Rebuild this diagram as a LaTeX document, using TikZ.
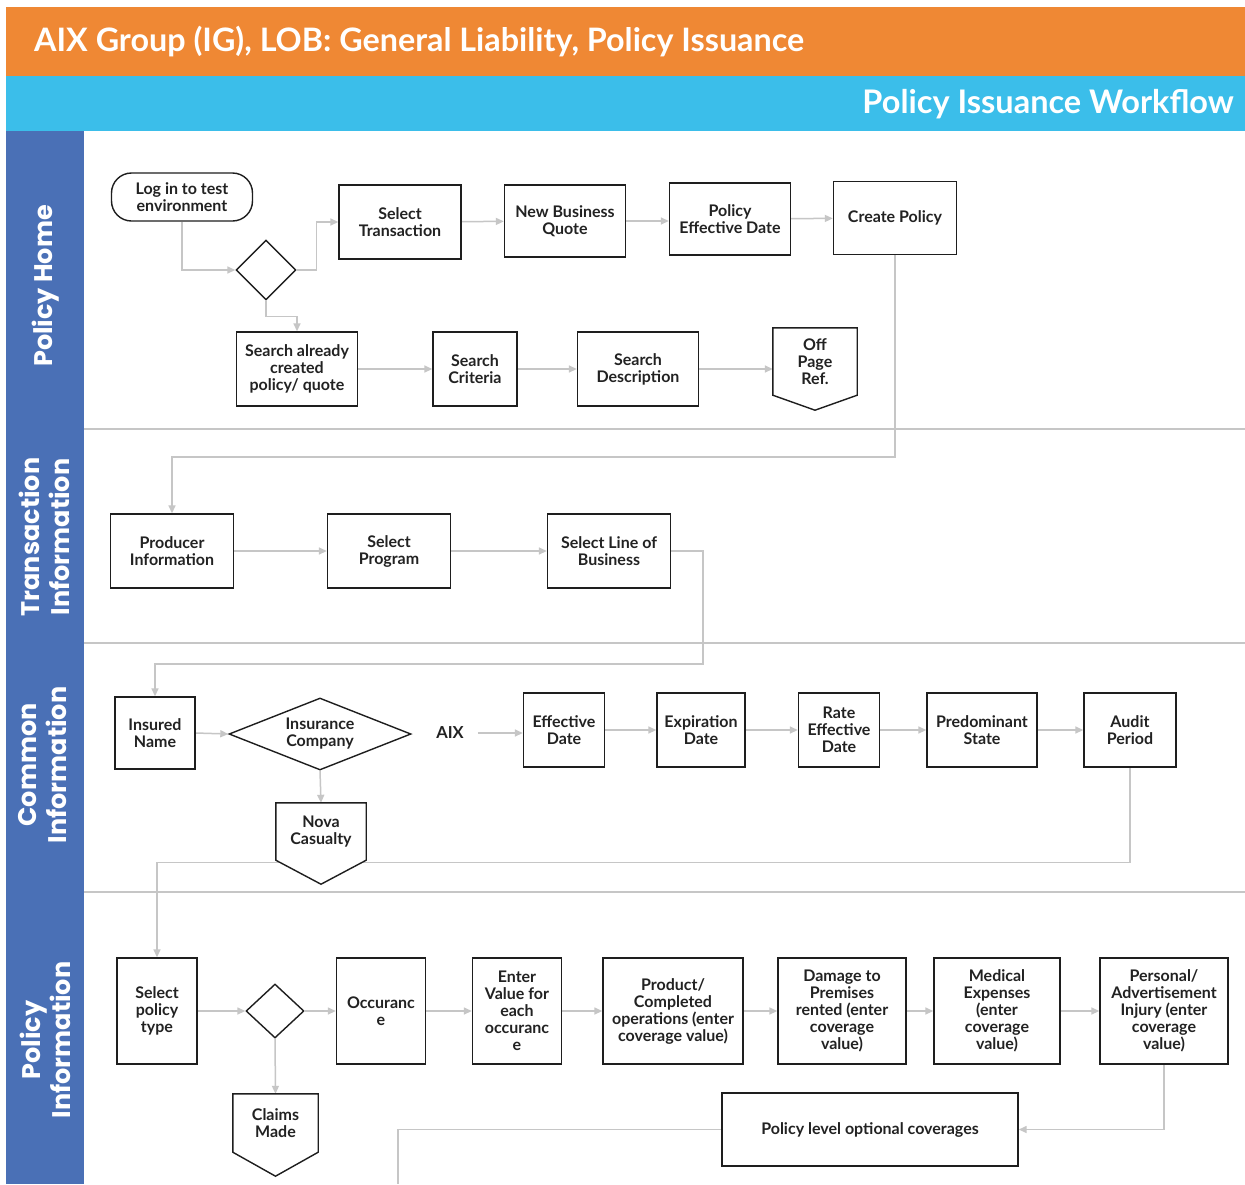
\documentclass[tikz,border=0pt]{standalone}
\usepackage{fontspec}
\setmainfont{Lato}
\newfontfamily\popfont{Poppins}
\usetikzlibrary{shapes.geometric,arrows.meta}
\definecolor{hdrorange}{HTML}{EF8834}
\definecolor{hdrblue}{HTML}{3BBEEA}
\definecolor{laneblue}{HTML}{4A70B6}
\definecolor{connclr}{HTML}{C6C6C6}
\definecolor{boxclr}{HTML}{1E1E1E}
\definecolor{txtclr}{HTML}{222222}
\pgfdeclarelayer{bg}
\pgfdeclarelayer{mid}
\pgfsetlayers{bg,mid,main}
\begin{document}
\begin{tikzpicture}[x=1pt,y=-1pt,
  nodefont/.style={font=\bfseries\fontsize{16}{17}\selectfont},
  box/.style={draw=boxclr, line width=1.4pt, fill=white, align=center, inner sep=0pt,
    nodefont, text=txtclr},
  plainbox/.style={align=center, inner sep=0pt, nodefont, text=txtclr},
  pent/.style={draw=boxclr, line width=1.4pt, fill=white, line join=miter},
  dia/.style={diamond, draw=boxclr, line width=1.4pt, fill=white, inner sep=0pt, align=center,
    nodefont, text=txtclr},
  conn/.style={draw=connclr, line width=1.5pt, -{Triangle[length=8pt,width=7pt]}},
  connline/.style={draw=connclr, line width=1.5pt},
  lanesep/.style={draw=connclr, line width=2.2pt},
  lanelbl/.style={rotate=90, text=white, align=center, font=\popfont\bfseries\fontsize{25.5}{30}\selectfont}
]
\useasboundingbox (0,0) rectangle (1245,1184);
\begin{pgfonlayer}{bg}
\fill[white] (0,0) rectangle (1245,1184);
\end{pgfonlayer}

% headers
\fill[hdrorange] (6,7) rectangle (1245,76);
\fill[hdrblue] (6,76) rectangle (1245,131);
\node[anchor=west, text=white, inner sep=0pt, font=\bfseries\fontsize{32.3}{36}\selectfont] (title) at (34,42) {AIX Group (IG), LOB: General Liability, Policy Issuance};
\node[anchor=east, text=white, inner sep=0pt, font=\bfseries\fontsize{32.5}{36}\selectfont] (subtitle) at (1234,104) {Policy Issuance Workflow};

% lane band
\fill[laneblue] (6,131) rectangle (84,1184);
\begin{pgfonlayer}{bg}
\draw[connclr, line width=1.5pt] (84,429) -- (1245,429);
\draw[lanesep] (84,643) -- (1245,643);
\draw[lanesep] (84,892) -- (1245,892);
\end{pgfonlayer}
\node[lanelbl] (lane1) at (46,286) {Policy Home};
\node[lanelbl] (lane2) at (44,537) {Transaction\\Information};
\node[lanelbl] (lane3) at (43,765) {Common\\Information};
\node[lanelbl] (lane4) at (45,1040) {Policy\\Information};

% lane 1
\node[box, rounded corners=20pt, minimum width=141pt, minimum height=48pt] (login) at (182,197) {Log in to test\\environment};
\node[dia, minimum width=60pt, minimum height=60pt] (d1) at (266,270) {};
\node[box, minimum width=122pt, minimum height=74pt] (seltrans) at (400,222) {Select\\Transaction};
\node[box, minimum width=121pt, minimum height=72pt] (nbq) at (565,221) {New Business\\Quote};
\node[box, minimum width=121pt, minimum height=72pt] (ped) at (730,219) {Policy\\Effective Date};
\node[box, minimum width=123pt, minimum height=73pt] (create) at (895,218) {Create Policy};
\node[box, minimum width=121pt, minimum height=74pt] (search) at (297,369) {Search already\\created\\policy/ quote};
\node[box, minimum width=84pt, minimum height=74pt] (crit) at (475,369) {Search\\Criteria};
\node[box, minimum width=121pt, minimum height=74pt] (desc) at (638,369) {Search\\Description};
\node[plainbox, minimum width=84pt, minimum height=67pt] (offpg) at (815,361.5) {Off\\Page\\Ref.};

% lane 2
\node[box, minimum width=123pt, minimum height=74pt] (prod) at (172,551) {Producer\\Information};
\node[box, minimum width=123pt, minimum height=74pt] (prog) at (389,551) {Select\\Program};
\node[box, minimum width=123pt, minimum height=74pt] (lob) at (609,551) {Select Line of\\Business};

% lane 3
\node[box, minimum width=80pt, minimum height=72pt] (insured) at (155,733) {Insured\\Name};
\node[dia, aspect=2.5, minimum width=182pt, minimum height=72pt] (insco) at (320,734) {Insurance\\Company};
\node[plainbox, inner xsep=14pt, font=\bfseries\fontsize{16.5}{18}\selectfont] (aix) at (450,733) {AIX};
\node[box, minimum width=81pt, minimum height=74pt] (effdate) at (564,730) {Effective\\Date};
\node[box, minimum width=88pt, minimum height=74pt] (expdate) at (701,730) {Expiration\\Date};
\node[box, minimum width=81pt, minimum height=74pt] (rate) at (839,730) {Rate\\Effective\\Date};
\node[box, minimum width=110pt, minimum height=74pt] (pred) at (982,730) {Predominant\\State};
\node[box, minimum width=92pt, minimum height=74pt] (audit) at (1130,730) {Audit\\Period};
\node[plainbox, minimum width=90pt, minimum height=57pt] (nova) at (321,831.5) {Nova\\Casualty};

% lane 4
\node[box, minimum width=80pt, minimum height=106pt] (selpol) at (157,1011) {Select\\policy\\type};
\node[dia, minimum width=58pt, minimum height=54pt] (d2) at (275,1011) {};
\node[box, minimum width=89pt, minimum height=106pt] (occ) at (381,1011) {Occuranc\\e};
\node[box, minimum width=89pt, minimum height=106pt] (enter) at (517,1011) {Enter\\Value for\\each\\occuranc\\e};
\node[box, minimum width=140pt, minimum height=106pt] (prodops) at (673,1011) {Product/\\Completed\\operations (enter\\coverage value)};
\node[box, minimum width=128pt, minimum height=106pt] (damage) at (842,1011) {Damage to\\Premises\\rented (enter\\coverage\\value)};
\node[box, minimum width=126pt, minimum height=106pt] (medical) at (997,1011) {Medical\\Expenses\\(enter\\coverage\\value)};
\node[box, minimum width=128pt, minimum height=106pt] (personal) at (1164,1011) {Personal/\\Advertisement\\Injury (enter\\coverage\\value)};
\node[plainbox, minimum width=85pt, minimum height=58pt] (claims) at (275.5,1123) {Claims\\Made};
\node[box, minimum width=296pt, minimum height=73pt] (optional) at (870,1129.5) {Policy level optional coverages};
\coordinate (offend) at (398,1184);

% off-page pentagons
\begin{pgfonlayer}{mid}
\draw[pent] (offpg.north west) -- (offpg.north east) -- (offpg.south east) -- ([yshift=-15pt]offpg.south) -- (offpg.south west) -- cycle;
\draw[pent] (nova.north west) -- (nova.north east) -- (nova.south east) -- ([yshift=-24pt]nova.south) -- (nova.south west) -- cycle;
\draw[pent] (claims.north west) -- (claims.north east) -- (claims.south east) -- ([yshift=-24pt]claims.south) -- (claims.south west) -- cycle;
\end{pgfonlayer}

% connectors
\begin{pgfonlayer}{bg}
\draw[conn] (login.south) |- (d1.west);
\draw[conn] (d1.east) -- ++(20,0) |- (seltrans.west);
\draw[conn] (d1.south) -- ++(0,16) -| (search.north);
\draw[conn] (seltrans) -- (nbq);
\draw[conn] (nbq.east) -- (ped.west |- nbq.east);
\draw[conn] (ped) -- (create);
\draw[conn] (search) -- (crit);
\draw[conn] (crit) -- (desc);
\draw[conn] (desc.east) -- (offpg.west |- desc.east);
\draw[conn] (create.south) -- ++(0,202) -| (prod.north);
\draw[conn] (prod) -- (prog);
\draw[conn] (prog) -- (lob);
\draw[conn] (lob.east) -- ++(32,0) -- ++(0,113) -| (insured.north);
\draw[conn] (insured.east) -- (insco.west);
\draw[conn] (aix.east) -- (effdate.west |- aix.east);
\draw[conn] (insco.south) -- (nova.north);
\draw[conn] (effdate) -- (expdate);
\draw[conn] (expdate) -- (rate);
\draw[conn] (rate) -- (pred);
\draw[conn] (pred) -- (audit);
\draw[conn] (audit.south) -- ++(0,95) -| (selpol.north);
\draw[conn] (selpol) -- (d2);
\draw[conn] (d2) -- (occ);
\draw[conn] (occ) -- (enter);
\draw[conn] (enter) -- (prodops);
\draw[conn] (prodops) -- (damage);
\draw[conn] (damage) -- (medical);
\draw[conn] (medical) -- (personal);
\draw[conn] (d2.south) -- (claims.north);
\draw[conn] (personal.south) |- (optional.east);
\draw[connline] (optional.west) -| (offend);
\end{pgfonlayer}
\end{tikzpicture}
\end{document}
